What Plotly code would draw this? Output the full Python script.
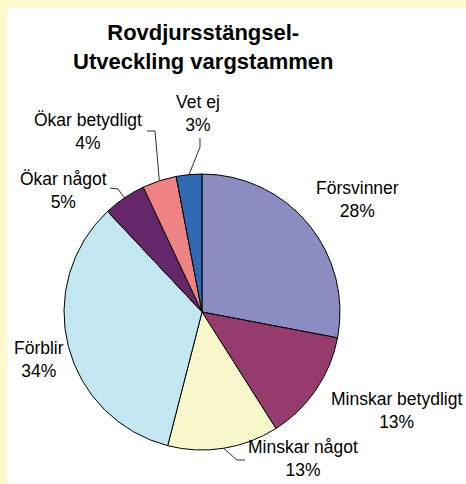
import numpy as np
import plotly.graph_objects as go

# Survey answers and their shares (percent)
categories = ["Försvinner", "Minskar betydligt", "Minskar något", "Förblir",
              "Ökar något", "Ökar betydligt", "Vet ej"]
shares = [28, 13, 13, 34, 5, 4, 3]
colors = ["#8A8CC2", "#953B6D", "#F7F7CB", "#C3E7F0", "#65266A", "#EF8282", "#2F68B3"]

title_lines = ["Rovdjursstängsel-", "Utveckling vargstammen"]

W, H = 466, 484
FONT = "Arial, Liberation Sans, sans-serif"

# Pie placement in pixels (centre and radius)
cx, cy, r = 202, 312, 138

# Label centres in pixels
label_pos = {
    "Försvinner": (357, 199),
    "Minskar betydligt": (396, 410),
    "Minskar något": (303, 458),
    "Förblir": (39, 359),
    "Ökar något": (63, 190),
    "Ökar betydligt": (88, 131),
    "Vet ej": (198, 113),
}
# Leader line bend points (elbow, end) in pixels for labels placed away from the slice
leader_pts = {
    "Vet ej": [(200, 147), (200, 138)],
    "Ökar betydligt": [(155, 131), (147, 131)],
    "Ökar något": [(118, 189), (110, 188)],
    "Minskar något": [(237, 460), (245, 460)],
}


def px(x):
    return x / W


def py(y):
    return 1 - y / H


fig = go.Figure()
fig.add_trace(go.Pie(
    labels=categories,
    values=shares,
    sort=False,
    direction="clockwise",
    rotation=0,
    marker=dict(colors=colors, line=dict(color="#000000", width=1)),
    textinfo="none",
    hoverinfo="skip",
    showlegend=False,
    domain=dict(x=[px(cx - r), px(cx + r)], y=[py(cy + r), py(cy - r)]),
))

shapes = [
    # pale yellow frame strips on the left and top edges
    dict(type="rect", xref="paper", yref="paper", x0=0, x1=px(7), y0=0, y1=1,
         fillcolor="#FFF9CC", line=dict(width=0), layer="below"),
    dict(type="rect", xref="paper", yref="paper", x0=0, x1=1, y0=py(7), y1=1,
         fillcolor="#FFF9CC", line=dict(width=0), layer="below"),
]

# Mid-angle of each slice, clockwise from 12 o'clock
total = sum(shares)
cum = np.cumsum([0] + shares[:-1])
annotations = []
for cat, v, c0 in zip(categories, shares, cum):
    mid = (c0 + v / 2) / total * 2 * np.pi
    ex, ey = cx + r * np.sin(mid), cy - r * np.cos(mid)
    if cat in leader_pts:
        pts = [(ex, ey)] + leader_pts[cat]
        path = "M " + " L ".join(f"{px(x):.5f},{py(y):.5f}" for x, y in pts)
        shapes.append(dict(type="path", xref="paper", yref="paper", path=path,
                           line=dict(color="#303030", width=1)))
    lx, ly = label_pos[cat]
    annotations.append(dict(
        x=px(lx), y=py(ly), xref="paper", yref="paper",
        text=f"{cat}<br>{v}%", showarrow=False, align="center",
        xanchor="center", yanchor="middle",
        font=dict(family=FONT, size=17.5, color="#000000"),
    ))

annotations.append(dict(
    x=px(203), y=py(47), xref="paper", yref="paper",
    text="<br>".join(f"<b>{t}</b>" for t in title_lines),
    showarrow=False, align="center", xanchor="center", yanchor="middle",
    font=dict(family=FONT, size=22, color="#000000"),
))

fig.update_layout(
    width=W, height=H,
    margin=dict(l=0, r=0, t=0, b=0),
    paper_bgcolor="#FFFFFF",
    plot_bgcolor="#FFFFFF",
    shapes=shapes,
    annotations=annotations,
)

fig.write_html("out.html")
